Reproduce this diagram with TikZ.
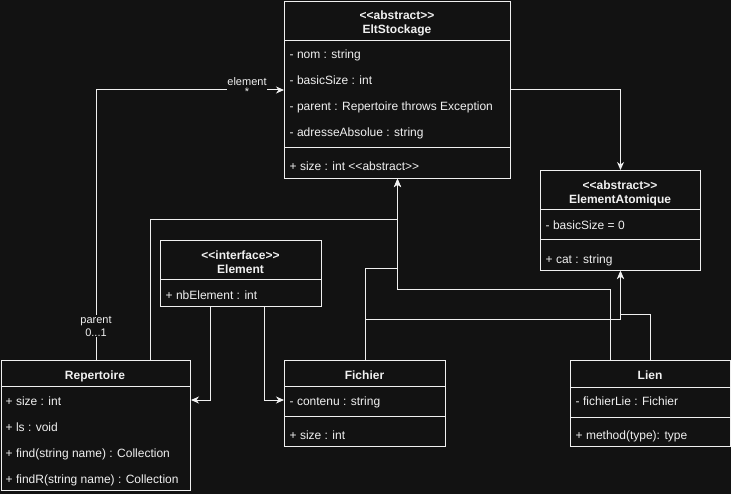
\documentclass[tikz,border=0pt]{standalone}
\usepackage{fontspec}
\setmainfont{Liberation Sans}
\usetikzlibrary{arrows.meta,calc}
\definecolor{bg}{RGB}{18,18,18}
\definecolor{fg}{RGB}{240,240,240}
\newcommand\llq{<\kern0pt<}
\newcommand\rrq{>\kern0pt>}
\begin{document}
\begin{tikzpicture}[x=1pt,y=-1pt,
  box/.style={draw=fg, line width=1pt, fill=bg, inner sep=0pt, anchor=north west},
  sep/.style={draw=fg, line width=1pt},
  conn/.style={draw=fg, line width=1pt, -{Stealth[length=8pt,width=7pt,inset=2.5pt]}},
  attr/.style={anchor=base west, text=fg, font=\fontsize{12}{14}\selectfont, inner sep=0pt},
  ttl/.style={anchor=base, text=fg, font=\bfseries\fontsize{12}{14}\selectfont, inner sep=0pt},
  lbl/.style={text=fg, font=\fontsize{11}{13}\selectfont, fill=bg, inner sep=0.5pt, align=center}]
\fill[bg] (0,0) rectangle (731,494);
\useasboundingbox (0,0) rectangle (731,494);

% boxes
\node[box, minimum width=226pt, minimum height=177pt] (elt) at (284,1) {};
\node[box, minimum width=160pt, minimum height=100pt] (atom) at (540,170) {};
\node[box, minimum width=161pt, minimum height=66pt] (iface) at (160,240) {};
\node[box, minimum width=189.5pt, minimum height=130pt] (rep) at (0.5,360) {};
\node[box, minimum width=161pt, minimum height=86pt] (fich) at (284,360) {};
\node[box, minimum width=160pt, minimum height=86pt] (lien) at (570,360) {};

% separators
\draw[sep] ($(elt.north west)+(0,40)$) -- ($(elt.north east)+(0,40)$);
\draw[sep] ($(elt.north west)+(0,147)$) -- ($(elt.north east)+(0,147)$);
\draw[sep] ($(atom.north west)+(0,40)$) -- ($(atom.north east)+(0,40)$);
\draw[sep] ($(atom.north west)+(0,70)$) -- ($(atom.north east)+(0,70)$);
\draw[sep] ($(iface.north west)+(0,40)$) -- ($(iface.north east)+(0,40)$);
\draw[sep] ($(rep.north west)+(0,26)$) -- ($(rep.north east)+(0,26)$);
\draw[sep] ($(fich.north west)+(0,26)$) -- ($(fich.north east)+(0,26)$);
\draw[sep] ($(fich.north west)+(0,56)$) -- ($(fich.north east)+(0,56)$);
\draw[sep] ($(lien.north west)+(0,27)$) -- ($(lien.north east)+(0,27)$);
\draw[sep] ($(lien.north west)+(0,57)$) -- ($(lien.north east)+(0,57)$);

% EltStockage
\node[ttl] (t1a) at (397,19.5) {\llq abstract\rrq};
\node[ttl] (t1b) at (397,33.5) {EltStockage};
\node[attr] (a1) at (289.5,58.5) {- nom : string};
\node[attr] (a2) at (289.5,85) {- basicSize : int};
\node[attr] (a3) at (289.5,111) {- parent : Repertoire throws Exception};
\node[attr] (a4) at (289.5,137) {- adresseAbsolue : string};
\node[attr] (a5) at (289.5,171) {+ size : int \llq abstract\rrq};

% ElementAtomique
\node[ttl] (t2a) at (620,189.5) {\llq abstract\rrq};
\node[ttl] (t2b) at (620,203.5) {ElementAtomique};
\node[attr] (b1) at (545.5,229.5) {- basicSize = 0};
\node[attr] (b2) at (545.5,263.5) {+ cat : string};

% Element
\node[ttl] (t3a) at (240.5,259.5) {\llq interface\rrq};
\node[ttl] (t3b) at (240.5,273.5) {Element};
\node[attr] (c1) at (165.5,299.5) {+ nbElement : int};

% Repertoire
\node[ttl] (t4) at (95,379.5) {Repertoire};
\node[attr] (d1) at (5.5,405.5) {+ size : int};
\node[attr] (d2) at (5.5,431.5) {+ ls : void};
\node[attr] (d3) at (5.5,457.5) {+ find(string name) : Collection};
\node[attr] (d4) at (5.5,483.5) {+ findR(string name) : Collection};

% Fichier
\node[ttl] (t5) at (364.5,379.5) {Fichier};
\node[attr] (e1) at (289.5,405.5) {- contenu : string};
\node[attr] (e2) at (289.5,439.5) {+ size : int};

% Lien
\node[ttl] (t6) at (650,379.5) {Lien};
\node[attr] (f1) at (575.5,405.5) {- fichierLie : Fichier};
\node[attr] (f2) at (575.5,439.5) {+ method(type): type};

% association
\draw[conn] ([xshift=95.5pt]rep.north west) |- (elt.west);
\node[lbl] (lp) at (96,326) {parent\\0...1};
\node[lbl] (le) at (247,86.5) {element\\[-3pt]*};

% inheritance
\draw[conn] ([xshift=149.5pt]rep.north west) -- ++(0,-140) -| (elt.south);
\draw[conn] (fich.north) -- ++(0,-91) -| (elt.south);
\draw[conn] ([xshift=40pt]lien.north west) -- ++(0,-70) -| (elt.south);
\draw[conn] (fich.north) -- ++(0,-40) -| (atom.south);
\draw[conn] (lien.north) -- ++(0,-45) -| (atom.south);
\draw[conn] (elt.east) -| (atom.north);

% interface
\draw[conn] ([xshift=50pt]iface.south west) |- ([yshift=-40pt]rep.north east);
\draw[conn] ([xshift=104pt]iface.south west) |- ([yshift=-40pt]fich.north west);
\end{tikzpicture}
\end{document}
